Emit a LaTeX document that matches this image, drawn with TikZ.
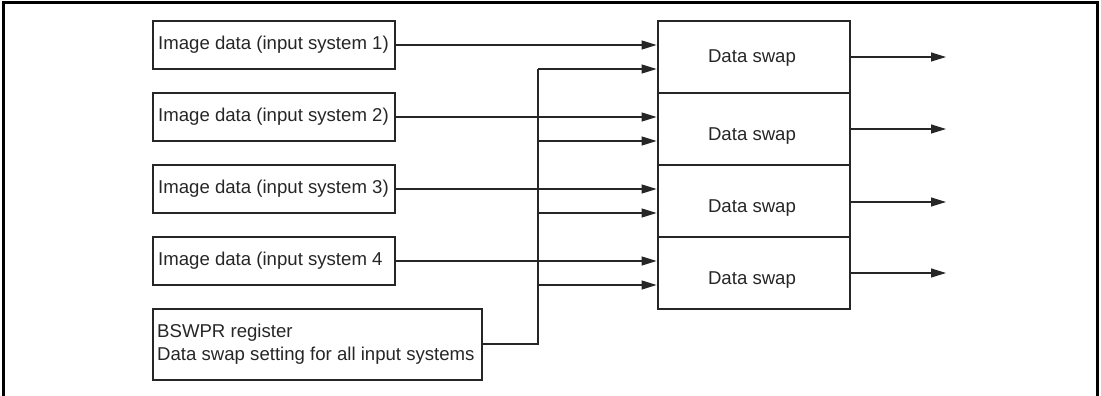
\documentclass[tikz,border=0pt]{standalone}
\usepackage{fontspec}
\setmainfont{Liberation Sans}
\usetikzlibrary{arrows.meta}
\begin{document}
\begin{tikzpicture}[x=1pt,y=-1pt,
  font=\fontsize{18.6}{23}\selectfont,
  inbox/.style={draw=black!85, line width=2.8pt, minimum width=242pt, minimum height=48pt, inner sep=0pt},
  dsbox/.style={draw=black!85, line width=2.8pt, minimum width=192pt, minimum height=72pt, inner sep=0pt},
  txt/.style={anchor=west, inner sep=0pt, text=black!85},
  conn/.style={draw=black!85, line width=1.2pt},
  arr/.style={conn, -{Triangle[length=15pt,width=9pt]}},
]
\useasboundingbox (0,0) rectangle (1101,396);
% outer frame
\draw[line width=3pt] (3,396) -- (3,3) -- (1097,3) -- (1097,396);

% input boxes
\node[inbox] (in1) at (274,45) {};
\node[inbox] (in2) at (274,117) {};
\node[inbox] (in3) at (274,189) {};
\node[inbox] (in4) at (274,261) {};
\node[txt] (t1) at (158,45) {Image data (input system 1)};
\node[txt] (t2) at (158,117) {Image data (input system 2)};
\node[txt] (t3) at (158,189) {Image data (input system 3)};
\node[txt] (t4) at (158,261) {Image data (input system 4};

% register box
\node[draw=black!85, line width=2.8pt, minimum width=329pt, minimum height=71pt, inner sep=0pt] (reg) at (317.5,344.5) {};
\node[txt, align=left] (treg) at (157,344) {BSWPR register\\Data swap setting for all input systems};

% data swap boxes
\node[dsbox] (ds1) at (754,57) {};
\node[dsbox] (ds2) at (754,129) {};
\node[dsbox] (ds3) at (754,201) {};
\node[dsbox] (ds4) at (754,273) {};
\node[inner sep=0pt, text=black!85] (l1) at (752,58) {Data swap};
\node[inner sep=0pt, text=black!85] (l2) at (752,136) {Data swap};
\node[inner sep=0pt, text=black!85] (l3) at (752,208) {Data swap};
\node[inner sep=0pt, text=black!85] (l4) at (752,280) {Data swap};

% bus
\coordinate (bus) at (538,344);
\coordinate (b1) at (538,69);
\coordinate (b2) at (538,141);
\coordinate (b3) at (538,213);
\coordinate (b4) at (538,285);
\draw[conn] (reg.east |- bus) -- (bus) -- (b1);

% data inputs
\draw[arr] (in1.east) -- (in1.east -| ds1.west);
\draw[arr] (in2.east) -- (in2.east -| ds2.west);
\draw[arr] (in3.east) -- (in3.east -| ds3.west);
\draw[arr] (in4.east) -- (in4.east -| ds4.west);
% setting inputs
\draw[arr] (b1) -- (b1 -| ds1.west);
\draw[arr] (b2) -- (b2 -| ds2.west);
\draw[arr] (b3) -- (b3 -| ds3.west);
\draw[arr] (b4) -- (b4 -| ds4.west);

% outputs
\coordinate (o1) at (946,57);
\coordinate (o2) at (946,129);
\coordinate (o3) at (946,202);
\coordinate (o4) at (946,273);
\draw[arr] (ds1.east) -- (o1);
\draw[arr] (ds2.east) -- (o2);
\draw[arr] (ds3.east |- o3) -- (o3);
\draw[arr] (ds4.east) -- (o4);
\end{tikzpicture}
\end{document}
